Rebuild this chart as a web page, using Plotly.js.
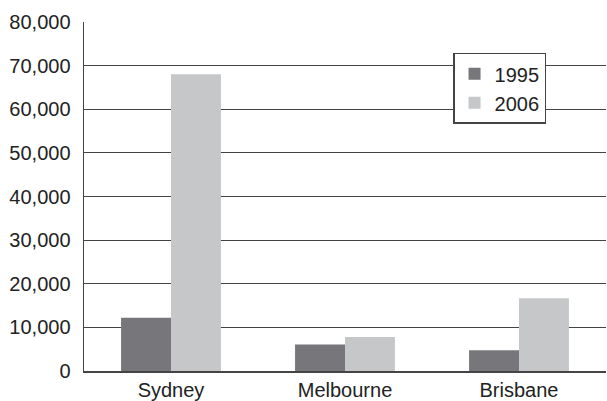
<!DOCTYPE html>
<html><head><meta charset="utf-8">
<script src="https://cdn.plot.ly/plotly-3.0.1.min.js"></script>
<style>body{margin:0;background:#fff}#c{width:607px;height:401px}</style>
</head><body><div id="c"></div>
<script>
const cities = ["Sydney", "Melbourne", "Brisbane"];
const v1995 = [12200, 6100, 4750];
const v2006 = [68000, 7800, 16700];
const yTicks = [0,10000,20000,30000,40000,50000,60000,70000,80000];

const font = {family: "Liberation Sans, Arial, sans-serif", size: 20, color: "#222"};
Plotly.newPlot("c", [
  {type: "bar", name: "1995", x: cities, y: v1995, marker: {color: "#77777b"}},
  {type: "bar", name: "2006", x: cities, y: v2006, marker: {color: "#c6c7c9"}}
], {
  width: 607, height: 401,
  margin: {l: 84, r: 1, t: 22, b: 30},
  paper_bgcolor: "#fff", plot_bgcolor: "#fff",
  font: font,
  barmode: "group", bargap: 0.426, bargroupgap: 0,
  showlegend: true,
  legend: {x: 0.707, y: 0.912, xanchor: "left", yanchor: "top", bgcolor: "#fff",
           bordercolor: "#444", borderwidth: 1.5, font: font, tracegroupgap: 0, itemwidth: 30},
  xaxis: {showline: true, linecolor: "#444", linewidth: 1.5, ticks: "", showgrid: false,
          tickfont: font, fixedrange: true},
  yaxis: {range: [0, 80000], tickvals: yTicks, tickformat: ",", showline: true,
          linecolor: "#444", linewidth: 1.5, gridcolor: "#444", gridwidth: 1.2,
          zeroline: false, ticks: "", ticklabelstandoff: 8, tickfont: font, fixedrange: true}
}, {displayModeBar: false, staticPlot: true});
</script></body></html>
